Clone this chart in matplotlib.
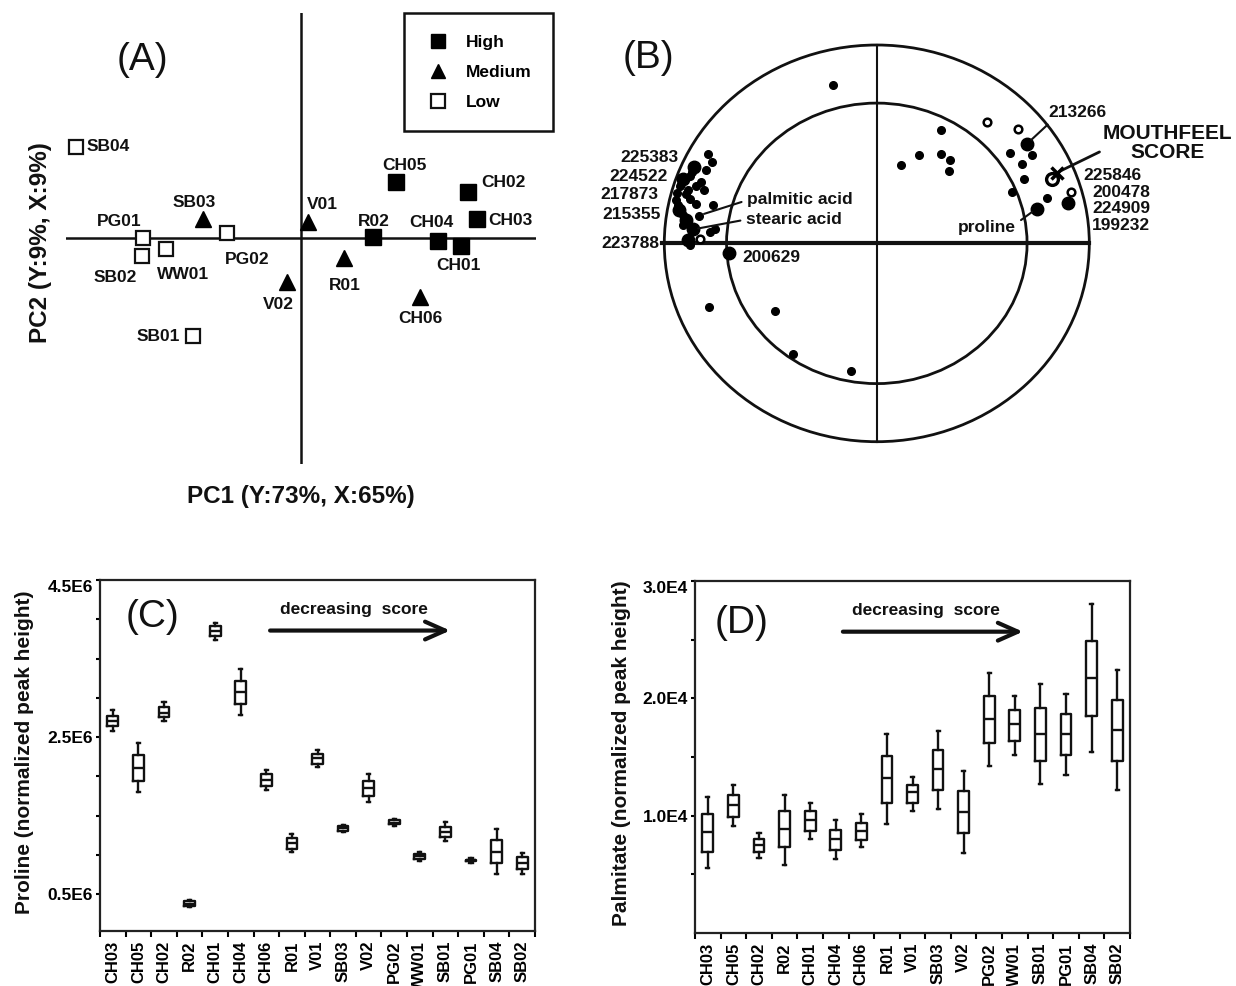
import numpy as np
import matplotlib
matplotlib.use("Agg")
import matplotlib.pyplot as plt
from matplotlib.lines import Line2D
from matplotlib.patches import Circle

plt.rcParams['font.family'] = ['Liberation Sans', 'DejaVu Sans']

W, H = 1236, 986
INK = '#111111'

# ---------------- (A) PCA scores ----------------
a_samples = ['SB04', 'SB03', 'PG01', 'SB02', 'WW01', 'PG02', 'V02', 'SB01', 'V01',
             'R02', 'R01', 'CH05', 'CH02', 'CH03', 'CH04', 'CH01', 'CH06']
a_pc1 = [-4.79, -2.09, -3.36, -3.38, -2.87, -1.57, -0.30, -2.29, 0.15,
         1.53, 0.91, 2.02, 3.55, 3.74, 2.91, 3.40, 2.53]
a_pc2 = [1.94, 0.40, 0.00, -0.38, -0.23, 0.11, -0.94, -2.09, 0.34,
         0.02, -0.43, 1.19, 0.98, 0.40, -0.06, -0.17, -1.26]
a_group = ['Low', 'Medium', 'Low', 'Low', 'Low', 'Low', 'Medium', 'Low', 'Medium',
           'High', 'Medium', 'High', 'High', 'High', 'High', 'High', 'Medium']
groups = ['High', 'Medium', 'Low']

# ---------------- (B) correlation loadings ----------------
small_u = [-0.796, -0.777, -0.804, -0.879, -0.827, -0.926, -0.851, -0.813, -0.939, -0.879,
           -0.852, -0.769, -0.913, -0.838, -0.761, -0.785, -0.879, -0.945, -0.920, -0.900,
           -0.935, -0.870, -0.910, -0.890, -0.205, -0.791, -0.479, -0.393, -0.121, 0.114,
           0.200, 0.301, 0.301, 0.344, 0.338, 0.627, 0.732, 0.682, 0.694, 0.638, 0.800]
small_v = [0.451, 0.411, 0.371, 0.338, 0.308, 0.288, 0.288, 0.271, 0.255, 0.224,
           0.196, 0.192, 0.145, 0.140, 0.073, 0.058, -0.006, 0.220, 0.300, 0.250,
           0.195, 0.360, 0.090, 0.270, 0.796, -0.320, -0.340, -0.557, -0.645, 0.394,
           0.444, 0.570, 0.451, 0.418, 0.364, 0.456, 0.444, 0.399, 0.325, 0.258, 0.231]
large_u = [-0.859, -0.911, -0.929, -0.898, -0.866, -0.887, -0.694, 0.708, 0.752, 0.901]
large_v = [0.384, 0.322, 0.170, 0.117, 0.070, 0.019, -0.048, 0.503, 0.175, 0.204]
ring_u = [0.517, 0.663, -0.832, 0.912]
ring_v = [0.613, 0.574, 0.024, 0.258]
big_ring_u = [0.823]
big_ring_v = [0.322]
score_u = [0.847]
score_v = [0.356]

# ---------------- (C) / (D) box plots ----------------
order = ['CH03', 'CH05', 'CH02', 'R02', 'CH01', 'CH04', 'CH06', 'R01', 'V01',
         'SB03', 'V02', 'PG02', 'WW01', 'SB01', 'PG01', 'SB04', 'SB02']

# proline, units of 1E6
pro_lo = [2.58, 1.80, 2.70, 0.33, 3.74, 2.78, 1.83, 1.03, 2.12, 1.29, 1.67, 1.37, 0.92, 1.18, 0.90, 0.76, 0.76]
pro_q1 = [2.64, 1.94, 2.75, 0.35, 3.79, 2.92, 1.88, 1.08, 2.16, 1.30, 1.75, 1.39, 0.95, 1.23, 0.92, 0.89, 0.82]
pro_md = [2.71, 2.11, 2.81, 0.38, 3.85, 3.07, 1.95, 1.15, 2.23, 1.34, 1.85, 1.41, 0.98, 1.29, 0.93, 1.04, 0.89]
pro_q3 = [2.77, 2.27, 2.88, 0.41, 3.91, 3.21, 2.03, 1.22, 2.29, 1.37, 1.94, 1.44, 1.01, 1.36, 0.94, 1.19, 0.97]
pro_hi = [2.84, 2.43, 2.94, 0.43, 3.95, 3.37, 2.08, 1.27, 2.33, 1.38, 2.03, 1.46, 1.04, 1.42, 0.96, 1.33, 1.02]
pro_ticks = [0.5e6, 2.5e6, 4.5e6]
pro_tick_labels = ['0.5E6', '2.5E6', '4.5E6']

# palmitate, units of 1E4
pal_lo = [0.55, 0.91, 0.64, 0.58, 0.80, 0.63, 0.73, 0.93, 1.04, 1.06, 0.68, 1.42, 1.52, 1.27, 1.35, 1.54, 1.22]
pal_q1 = [0.69, 0.99, 0.69, 0.73, 0.87, 0.71, 0.79, 1.11, 1.11, 1.22, 0.85, 1.62, 1.64, 1.47, 1.52, 1.85, 1.47]
pal_md = [0.86, 1.09, 0.75, 0.89, 0.96, 0.80, 0.87, 1.32, 1.20, 1.40, 1.03, 1.82, 1.78, 1.70, 1.70, 2.17, 1.73]
pal_q3 = [1.01, 1.18, 0.80, 1.04, 1.04, 0.88, 0.94, 1.51, 1.26, 1.56, 1.21, 2.02, 1.90, 1.92, 1.87, 2.49, 1.99]
pal_hi = [1.16, 1.26, 0.85, 1.18, 1.11, 0.96, 1.01, 1.70, 1.33, 1.72, 1.38, 2.22, 2.02, 2.12, 2.04, 2.80, 2.24]
pal_ticks = [1.0e4, 2.0e4, 3.0e4]
pal_tick_labels = ['1.0E4', '2.0E4', '3.0E4']


def fig_rect(x0, y0, x1, y1):
    # pixel box (top-left origin) -> figure fraction rect
    return [x0 / W, 1 - y1 / H, (x1 - x0) / W, (y1 - y0) / H]


fig = plt.figure(figsize=(W / 100, H / 100), dpi=100)

# ================= panel A =================
ax = fig.add_axes(fig_rect(66, 12.5, 536, 463.5))
ax.set_xlim(-5, 5)
ax.set_ylim(-4.8, 4.8)
for s in ax.spines.values():
    s.set_visible(False)
ax.set_xticks([])
ax.set_yticks([])
ax.axhline(0, color=INK, lw=1.8, zorder=1)
ax.axvline(0, color=INK, lw=1.8, zorder=1)

styles = {
    'High': dict(marker='s', mfc='black', mec='black', ms=11),
    'Medium': dict(marker='^', mfc='black', mec='black', ms=11),
    'Low': dict(marker='s', mfc='white', mec=INK, ms=10.5, mew=1.6),
}
for g in groups:
    xs = [x for x, gg in zip(a_pc1, a_group) if gg == g]
    ys = [y for y, gg in zip(a_pc2, a_group) if gg == g]
    ax.plot(xs, ys, linestyle='none', zorder=3, **styles[g])

# label placement (pixels, up = +)
a_label_pos = {
    'SB04': (11, 0, 'left'), 'SB03': (-9, 17, 'center'), 'PG01': (-24, 16, 'center'),
    'SB02': (-27, -22, 'center'), 'WW01': (17, -26, 'center'), 'PG02': (20, -27, 'center'),
    'V02': (-9, -22, 'center'), 'SB01': (-13, 0, 'right'), 'V01': (14, 18, 'center'),
    'R02': (1, 16, 'center'), 'R01': (1, -27, 'center'), 'CH05': (8, 17, 'center'),
    'CH02': (36, 9, 'center'), 'CH03': (34, -1, 'center'), 'CH04': (-6, 18, 'center'),
    'CH01': (-2, -20, 'center'), 'CH06': (0, -21, 'center'),
}
for name, x, y in zip(a_samples, a_pc1, a_pc2):
    dx, dy, ha = a_label_pos[name]
    ax.annotate(name, (x, y), xytext=(dx, dy), textcoords='offset pixels',
                ha=ha, va='center', fontsize=12.5, fontweight='bold', color=INK)

handles = [Line2D([], [], linestyle='none', label=g,
                  **{**styles[g], 'ms': styles[g]['ms'] - 0.8}) for g in groups]
leg = ax.legend(handles=handles, loc='upper left', bbox_to_anchor=(0.719, 0.999),
                frameon=True, fancybox=False, edgecolor=INK, framealpha=1,
                prop=dict(weight='bold', size=12.5), borderpad=1.25, handlelength=1.45,
                handletextpad=0.85, labelspacing=0.85, borderaxespad=0)
leg.get_frame().set_linewidth(1.8)

ax.set_xlabel('PC1 (Y:73%, X:65%)', fontsize=17.5, fontweight='bold', color=INK)
ax.xaxis.set_label_coords(0.5, -0.048)
ax.xaxis.label.set_va('top')
ax.set_ylabel('PC2 (Y:9%, X:9%)', fontsize=17.5, fontweight='bold', color=INK)
ax.yaxis.set_label_coords(-0.03, 0.489)
fig.text(142 / W, 1 - 60 / H, '(A)', fontsize=28, ha='center', va='center', color=INK)

# ================= panel B =================
axb = fig.add_axes(fig_rect(664.3, 45, 1089.3, 441.7))
axb.set_xlim(-1, 1)
axb.set_ylim(-1, 1)
axb.axis('off')
for r in (1.0, 0.7071):
    axb.add_patch(Circle((0, 0), r, fill=False, lw=2, ec=INK, clip_on=False))
axb.plot([-1.01, 1], [0, 0], color=INK, lw=3, clip_on=False)
axb.plot([0, 0], [-1, 1], color=INK, lw=1.5, clip_on=False)

axb.plot(small_u, small_v, 'o', color='black', ms=5.5, zorder=3, clip_on=False)
axb.plot(large_u, large_v, 'o', color='black', ms=9, zorder=3, clip_on=False)
axb.plot(ring_u, ring_v, 'o', mfc='white', mec='black', ms=5.5, mew=1.8, zorder=4)
axb.plot(big_ring_u, big_ring_v, 'o', mfc='white', mec='black', ms=8.5, mew=2.4, zorder=4)
axb.plot(score_u, score_v, 'x', color='black', ms=9, mew=2.5, zorder=5)

b_txt = dict(fontsize=12.5, fontweight='bold', color=INK, va='center', clip_on=False)
b_labels = [
    ('225383', -0.931, 0.433, 'right'), ('224522', -0.983, 0.337, 'right'),
    ('217873', -1.030, 0.246, 'right'), ('215355', -1.016, 0.145, 'right'),
    ('223788', -1.021, -0.001, 'right'), ('200629', -0.634, -0.072, 'left'),
    ('225846', 0.970, 0.342, 'left'), ('200478', 1.013, 0.256, 'left'),
    ('224909', 1.013, 0.175, 'left'), ('199232', 1.013, 0.090, 'left'),
]
for t, u, v, ha in b_labels:
    axb.text(u, v, t, ha=ha, **b_txt)

lead = dict(arrowstyle='-', color=INK, lw=1.5, shrinkA=2, shrinkB=4)
axb.annotate('palmitic acid', (-0.838, 0.140), xytext=(-0.611, 0.221), ha='left',
             arrowprops={**lead, 'relpos': (0, 0.45)}, **b_txt)
axb.annotate('stearic acid', (-0.866, 0.070), xytext=(-0.616, 0.120), ha='left',
             arrowprops={**lead, 'relpos': (0, 0.5)}, **b_txt)
axb.annotate('213266', (0.708, 0.503), xytext=(0.806, 0.660), ha='left',
             arrowprops={**lead, 'relpos': (0.08, 0.0)}, **b_txt)
axb.annotate('proline', (0.752, 0.175), xytext=(0.655, 0.080), ha='right',
             arrowprops={**lead, 'relpos': (1.0, 0.75)}, **b_txt)
axb.annotate('MOUTHFEEL\nSCORE', (0.847, 0.356), xytext=(1.366, 0.506), ha='center',
             multialignment='center', linespacing=0.95, fontsize=15, fontweight='bold',
             color=INK, va='center', annotation_clip=False,
             arrowprops=dict(arrowstyle='-', color=INK, lw=2, shrinkA=0, shrinkB=2,
                             relpos=(0.12, 0.5)))
fig.text(648 / W, 1 - 58 / H, '(B)', fontsize=28, ha='center', va='center', color=INK)


# ================= panels C / D =================
def box_panel(rect, lo, q1, md, q3, hi, scale, ylim, ticks, tick_labels, ylabel,
              tag, tag_xy, arrow_x, ylab_x):
    axp = fig.add_axes(rect)
    stats = [dict(whislo=a * scale, q1=b * scale, med=c * scale, q3=d * scale,
                  whishi=e * scale, label=n)
             for a, b, c, d, e, n in zip(lo, q1, md, q3, hi, order)]
    lp = dict(color=INK, lw=1.7)
    axp.bxp(stats, positions=range(len(order)), widths=0.42, capwidths=0.12,
            showfliers=False, manage_ticks=False, boxprops=lp, whiskerprops=lp,
            capprops=lp, medianprops=lp)
    axp.set_xlim(-0.5, len(order) - 0.5)
    axp.set_ylim(*ylim)
    for s in axp.spines.values():
        s.set_linewidth(1.6)
        s.set_color('#222222')
    axp.set_xticks(range(len(order)), order, rotation=90, fontsize=12, fontweight='bold')
    axp.set_xticks(np.arange(-0.5, len(order), 1), minor=True)
    axp.tick_params(axis='x', which='major', length=0, pad=7)
    axp.tick_params(axis='x', which='minor', length=4, width=1.5, direction='out')
    axp.set_yticks(ticks, tick_labels, fontsize=12.5, fontweight='bold')
    step = ticks[0] / 2 if scale == 1e4 else 0.5e6
    axp.set_yticks(np.arange(step, ylim[1] + 1, step), minor=True)
    axp.tick_params(axis='y', which='both', length=3, width=1.5, direction='out', pad=2)
    axp.yaxis.get_major_ticks()[-1].label1.set_va('top')
    axp.set_ylabel(ylabel, fontsize=15, fontweight='bold', color=INK)
    axp.yaxis.set_label_coords(ylab_x, 0.51)
    axp.text(tag_xy[0], tag_xy[1], tag, transform=axp.transAxes, fontsize=28,
             ha='center', va='center', color=INK)
    axp.text((arrow_x[0] + arrow_x[1]) / 2 - 0.015, 0.915, 'decreasing  score',
             transform=axp.transAxes, fontsize=12.5, fontweight='bold', ha='center',
             va='center', color=INK)
    axp.annotate('', xy=(arrow_x[1], 0.856), xytext=(arrow_x[0], 0.856),
                 xycoords='axes fraction',
                 arrowprops=dict(arrowstyle='->,head_length=0.9,head_width=0.4',
                                 mutation_scale=16, lw=3, color=INK,
                                 shrinkA=0, shrinkB=0))
    return axp


box_panel(fig_rect(100, 580, 535, 931), pro_lo, pro_q1, pro_md, pro_q3, pro_hi, 1e6,
          (0.03e6, 4.5e6), pro_ticks, pro_tick_labels, 'Proline (normalized peak height)',
          '(C)', (0.120, 0.895), (0.391, 0.805), -0.152)
box_panel(fig_rect(695, 581, 1130, 933), pal_lo, pal_q1, pal_md, pal_q3, pal_hi, 1e4,
          (0, 3.0e4), pal_ticks, pal_tick_labels, 'Palmitate (normalized peak height)',
          '(D)', (0.107, 0.881), (0.340, 0.754), -0.147)

fig.savefig('out.png', dpi=100, facecolor='white')
